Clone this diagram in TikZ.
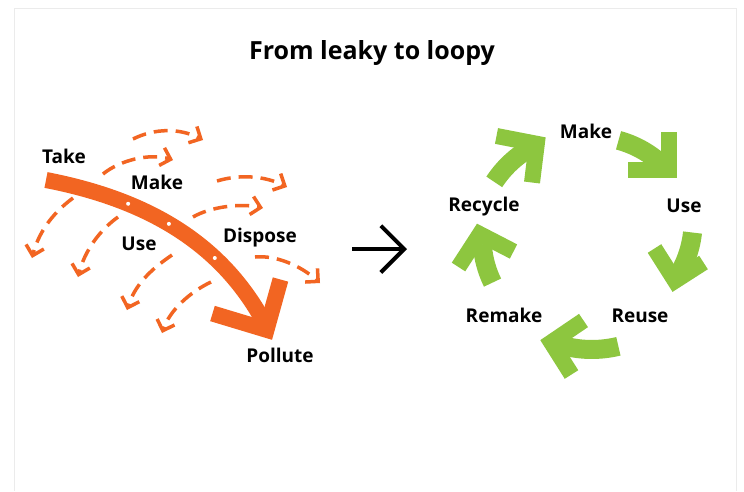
\documentclass[tikz,border=0pt]{standalone}
\usepackage{fontspec}
\setmainfont{Open Sans}
\usetikzlibrary{arrows.meta}
\definecolor{orng}{HTML}{F26522}
\definecolor{grn}{HTML}{8DC63F}
\begin{document}
\begin{tikzpicture}[x=1pt,y=-1pt,
  lbl/.style={font=\bfseries\fontsize{19}{22}\selectfont, anchor=base, inner sep=0pt},
  band/.style={orng, line width=16pt},
  chev/.style={line join=miter, miter limit=10},
  dotn/.style={circle, fill=white, draw=none, minimum size=4pt, inner sep=0pt},
  dashline/.style={orng, line width=3.5pt, dash pattern=on 14pt off 8pt, -{Straight Barb[angle=90:13pt]}},
  gshaft/.style={grn, line width=19pt},
  gchev/.style={grn, line width=16pt, line join=miter, miter limit=10},
  blackarrow/.style={black, line width=4pt, -{Straight Barb[angle=90:33pt]}}
]
\useasboundingbox (0,0) rectangle (744,491);
\fill[white] (0,0) rectangle (744,491);
\draw[black!8, line width=0.8pt] (14,491) -- (14,8) -- (736,8) -- (736,491);

% title
\node[font=\bfseries\fontsize{25}{30}\selectfont, anchor=base, inner sep=0pt] (title) at (372,59) {From leaky to loopy};

% ---------- leaky (left) ----------
\coordinate (bandS) at (46,180);
\coordinate (bandE) at (265,324);
\draw[band] (bandS) .. controls (144,199) and (220.7,240.8) .. (bandE)
  node[dotn, pos=0.30] (d1) {}
  node[dotn, pos=0.47] (d2) {}
  node[dotn, pos=0.69] (d3) {};
\draw[band, chev] (280.5,279.5) -- (266.5,329.8) -- (212.5,313.5);

% dashed leaks, rightward
\draw[dashline] (133,139) .. controls (155,128) and (180,128) .. (203,140);
\draw[dashline] (103,174) .. controls (120,160) and (150,153) .. (173,160);
\draw[dashline] (217,181) .. controls (240,174) and (265,176) .. (287,187);
\draw[dashline] (193,217) .. controls (210,207) and (240,203) .. (263,208);
\draw[dashline] (255,257) .. controls (275,255) and (300,265) .. (320,283);
% dashed leaks, downward left
\draw[dashline] (73,198) .. controls (50,215) and (38,235) .. (32,258);
\draw[dashline] (118,217) .. controls (100,230) and (85,250) .. (78,277);
\draw[dashline] (172,255) .. controls (150,270) and (135,285) .. (127,310);
\draw[dashline] (211,282) .. controls (190,292) and (170,310) .. (162,333);

\node[lbl] (take) at (64,163) {Take};
\node[lbl] (make1) at (157,189) {Make};
\node[lbl] (use1) at (139,250) {Use};
\node[lbl] (dispose) at (260,242) {Dispose};
\node[lbl] (pollute) at (280,362) {Pollute};

% ---------- middle arrow ----------
\coordinate (ba) at (352,249);
\coordinate (bb) at (407,249);
\draw[blackarrow] (ba) -- (bb);

% ---------- loopy (right) ----------
% Recycle -> Make
\draw[gshaft] plot[domain=0:1, samples=25] ({586+(107-2*\x)*cos(211+27*\x)},{237+(107-2*\x)*sin(211+27*\x)});
\draw[gchev] (496.5,136) -- (536.8,143.8) -- (532,182.5);
% Make -> Use
\draw[gshaft] plot[domain=0:1, samples=25] ({586+(102+3*\x)*cos(-71.4+27.4*\x)},{237+(102+3*\x)*sin(-71.4+27.4*\x)});
\draw[gchev] (669,132) -- (669,170) -- (628,170);
% Use -> Reuse
\draw[gshaft] plot[domain=0:1, samples=25] ({586+(106.6-6.6*\x)*cos(-2.4+23.4*\x)},{237+(106.6-6.6*\x)*sin(-2.4+23.4*\x)});
\draw[gchev] (654.5,248.5) -- (675,280.8) -- (703.5,262.5);
% Reuse -> Remake
\draw[gshaft] plot[domain=0:1, samples=25] ({586+(114-3*\x)*cos(73.5+29.5*\x)},{237+(114-3*\x)*sin(73.5+29.5*\x)});
\draw[gchev] (583.5,320.5) -- (551.2,342.4) -- (571.5,374.5);
% Remake -> Recycle
\draw[gshaft] plot[domain=0:1, samples=25] ({586+104*cos(154+22*\x)},{237+104*sin(154+22*\x)});
\draw[gchev] (458.5,267) -- (479.8,234.1) -- (513.5,251.5);

\node[lbl] (make2) at (586,138) {Make};
\node[lbl] (use2) at (684,212) {Use};
\node[lbl] (recycle) at (484,211) {Recycle};
\node[lbl] (remake) at (504,322) {Remake};
\node[lbl] (reuse) at (640,322) {Reuse};
\end{tikzpicture}
\end{document}
